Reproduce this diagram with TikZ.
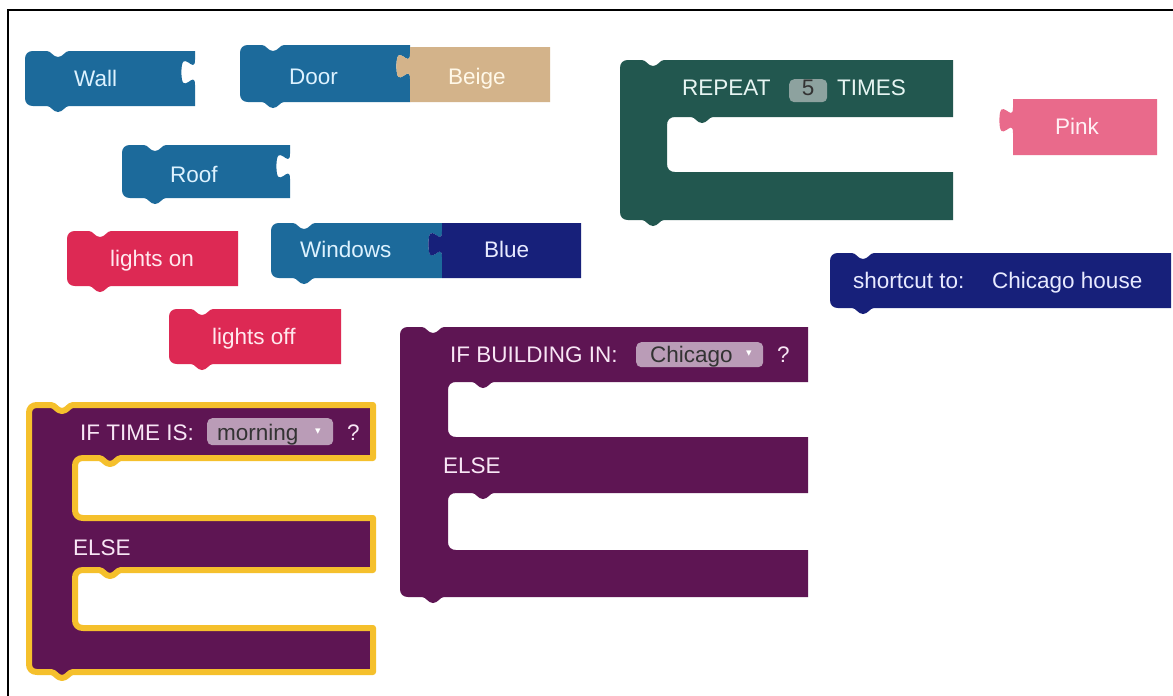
\documentclass[tikz,border=0pt]{standalone}
\usepackage{fontspec}
\setmainfont{Liberation Sans}
\newfontfamily\arrowfont{DejaVu Sans}

\definecolor{blockblue}{HTML}{1C6A9B}
\definecolor{tanblk}{HTML}{D3B38A}
\definecolor{tealblk}{HTML}{22574F}
\definecolor{pinkblk}{HTML}{E96A8B}
\definecolor{navyblk}{HTML}{17207A}
\definecolor{crimson}{HTML}{DD2954}
\definecolor{purpleblk}{HTML}{5E1553}
\definecolor{ddfill}{HTML}{BA9CB7}
\definecolor{numfill}{HTML}{8DA29F}
\definecolor{gold}{HTML}{F5C02C}
\definecolor{txtblue}{HTML}{DDF2FF}
\definecolor{txttan}{HTML}{FFF8E8}
\definecolor{txtteal}{HTML}{E6F5F2}
\definecolor{txtpink}{HTML}{FFF0F4}
\definecolor{txtnavy}{HTML}{E8EAFF}
\definecolor{txtred}{HTML}{FFE8EE}
\definecolor{txtpurple}{HTML}{F8E6F5}
\definecolor{txtdark}{HTML}{333333}

% top edge with the previous-statement notch: from left-top corner to right-top corner
\newcommand{\topedge}[3]{({#1},{#2+8}) .. controls ({#1},{#2+3}) and ({#1+3},{#2}) .. ({#1+8},{#2})
  -- ({#1+22},{#2}) .. controls ({#1+26},{#2}) and ({#1+28},{#2+6}) .. ({#1+33},{#2+6})
  .. controls ({#1+38},{#2+6}) and ({#1+40},{#2}) .. ({#1+44},{#2}) -- ({#3},{#2})}
% bottom edge with the next-statement bump, going leftwards, closing the outline
\newcommand{\botedge}[2]{-- ({#1+44},{#2}) .. controls ({#1+40},{#2}) and ({#1+38},{#2+6}) .. ({#1+33},{#2+6})
  .. controls ({#1+28},{#2+6}) and ({#1+26},{#2}) .. ({#1+22},{#2}) -- ({#1+8},{#2})
  .. controls ({#1+3},{#2}) and ({#1},{#2-3}) .. ({#1},{#2-8}) -- cycle}
% value-input socket cut into the right edge
\newcommand{\socket}[2]{-- ({#1},{#2+8.5}) .. controls ({#1},{#2+25.5}) and ({#1-13.6},{#2-5.1}) .. ({#1-13.6},{#2+21.25})
  .. controls ({#1-13.6},{#2+47.6}) and ({#1},{#2+17}) .. ({#1},{#2+34})}
% output tab on the left edge, drawn upwards
\newcommand{\tabup}[2]{-- ({#1},{#2+34}) .. controls ({#1},{#2+17}) and ({#1-13.6},{#2+47.6}) .. ({#1-13.6},{#2+21.25})
  .. controls ({#1-13.6},{#2-5.1}) and ({#1},{#2+25.5}) .. ({#1},{#2+8.5})}
% statement mouth of a C-shaped block: right x, mouth left x, top y, bottom y
\newcommand{\mouth}[4]{-- ({#2+46},{#3}) .. controls ({#2+42},{#3}) and ({#2+40},{#3+6}) .. ({#2+35},{#3+6})
  .. controls ({#2+30},{#3+6}) and ({#2+28},{#3}) .. ({#2+24},{#3}) -- ({#2+8},{#3})
  .. controls ({#2+3},{#3}) and ({#2},{#3+3}) .. ({#2},{#3+8}) -- ({#2},{#4-8})
  .. controls ({#2},{#4-3}) and ({#2+3},{#4}) .. ({#2+8},{#4}) -- ({#1},{#4})}

\tikzset{
  lbl/.style={anchor=base west, inner sep=0pt, font=\fontsize{22.5}{27}\selectfont},
  dropdown/.style={fill=ddfill, rounded corners=5pt, inner sep=0pt, anchor=north west},
  numbox/.style={fill=numfill, rounded corners=5pt, inner sep=0pt, anchor=north west},
  ddarrow/.style={inner sep=0pt, text=white, font=\arrowfont\fontsize{11}{11}\selectfont},
}

\begin{document}
\begin{tikzpicture}[x=1pt, y=-1pt]
\useasboundingbox (0,0) rectangle (1173,696);
\fill[white] (0,0) rectangle (1173,696);
\draw[line width=2.6pt] (8,696) -- (8,10) -- (1174,10);

% ---- Wall
\fill[blockblue] \topedge{25}{51}{195} \socket{195}{51} -- (195,106) \botedge{25}{106};
\node[lbl, text=txtblue] (wall) at (74,86) {Wall};

% ---- Door + Beige
\fill[blockblue] \topedge{240}{45}{410} \socket{410}{45} -- (410,102) \botedge{240}{102};
\fill[tanblk] (410,47) -- (550,47) -- (550,102) -- (410,102) \tabup{410}{45} -- cycle;
\node[lbl, text=txtblue] (door) at (289,84) {Door};
\node[lbl, text=txttan] (beige) at (448,84) {Beige};

% ---- Roof
\fill[blockblue] \topedge{122}{145}{290} \socket{290}{145} -- (290,198) \botedge{122}{198};
\node[lbl, text=txtblue] (roof) at (170,182) {Roof};

% ---- lights on
\fill[crimson] \topedge{67}{231}{238} -- (238,286) \botedge{67}{286};
\node[lbl, text=txtred] (lightson) at (110,266) {lights on};

% ---- Windows + Blue
\fill[blockblue] \topedge{271}{223}{442} \socket{442}{223} -- (442,278) \botedge{271}{278};
\fill[navyblk] (442,223) -- (581,223) -- (581,278) -- (442,278) \tabup{442}{223} -- cycle;
\node[lbl, text=txtblue] (windows) at (300,257) {Windows};
\node[lbl, text=txtnavy] (blue) at (484,257) {Blue};

% ---- lights off
\fill[crimson] \topedge{169}{309}{341} -- (341,364) \botedge{169}{364};
\node[lbl, text=txtred] (lightsoff) at (212,344) {lights off};

% ---- REPEAT loop
\fill[tealblk] \topedge{620}{60}{953} -- (953,117) \mouth{953}{667}{117}{172} -- (953,220) \botedge{620}{220};
\node[lbl, text=txtteal] (repeat) at (682,95) {REPEAT};
\node[numbox, minimum width=38pt, minimum height=23pt] (count) at (789,79) {};
\node[lbl, anchor=base, text=txtdark] (countval) at (808,95) {5};
\node[lbl, text=txtteal] (times) at (837,95) {TIMES};

% ---- Pink
\fill[pinkblk] (1013,99) -- (1157,99) -- (1157,155) -- (1013,155) \tabup{1013}{99} -- cycle;
\node[lbl, text=txtpink] (pink) at (1055,134) {Pink};

% ---- shortcut
\fill[navyblk] \topedge{830}{253}{1171} -- (1171,308) \botedge{830}{308};
\node[lbl, text=txtnavy] (shortcut) at (853,288) {shortcut to:};
\node[lbl, text=txtnavy] (chicagohouse) at (992,288) {Chicago house};

% ---- IF BUILDING IN
\fill[purpleblk] \topedge{400}{327}{808} -- (808,382) \mouth{808}{448}{382}{437}
  -- (808,493) \mouth{808}{448}{493}{550} -- (808,597) \botedge{400}{597};
\node[lbl, text=txtpurple] (ifbuilding) at (450,362) {IF BUILDING IN:};
\node[dropdown, minimum width=127pt, minimum height=25pt] (citybox) at (636,342) {};
\node[lbl, text=txtdark] (city) at (650,362) {Chicago};
\node[ddarrow] (cityarrow) at (749,354) {▾};
\node[lbl, text=txtpurple] (qbuilding) at (777,362) {?};
\node[lbl, text=txtpurple] (elsebuilding) at (443,473) {ELSE};

% ---- IF TIME IS (selected, gold outline)
\filldraw[fill=purpleblk, draw=gold, line width=6pt, line join=round]
  \topedge{29}{405}{373} -- (373,458) \mouth{373}{75}{458}{518}
  -- (373,570) \mouth{373}{75}{570}{628} -- (373,672) \botedge{29}{672};
\node[lbl, text=txtpurple] (iftime) at (80,440) {IF TIME IS:};
\node[dropdown, minimum width=126pt, minimum height=27pt] (timebox) at (207,418) {};
\node[lbl, text=txtdark] (time) at (217,440) {morning};
\node[ddarrow] (timearrow) at (318,432) {▾};
\node[lbl, text=txtpurple] (qtime) at (347,440) {?};
\node[lbl, text=txtpurple] (elsetime) at (73,555) {ELSE};
\end{tikzpicture}
\end{document}
